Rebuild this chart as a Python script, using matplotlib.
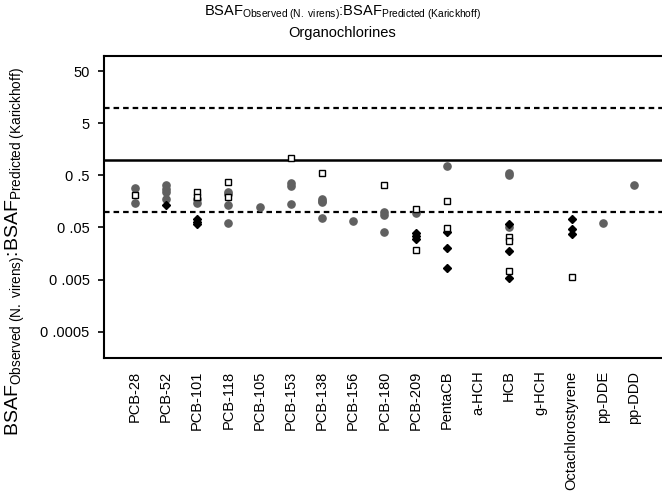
import matplotlib
matplotlib.use('Agg')
import matplotlib.pyplot as plt

plt.rcParams['font.family'] = ['Liberation Sans', 'DejaVu Sans']
plt.rcParams['mathtext.fontset'] = 'custom'
plt.rcParams['mathtext.rm'] = 'Liberation Sans'
plt.rcParams['mathtext.it'] = 'Liberation Sans'

compounds = ['PCB-28', 'PCB-52', 'PCB-101', 'PCB-118', 'PCB-105', 'PCB-153',
             'PCB-138', 'PCB-156', 'PCB-180', 'PCB-209', 'PentaCB', 'a-HCH',
             'HCB', 'g-HCH', 'Octachlorostyrene', 'pp-DDE', 'pp-DDD']

# grey circles
circle_vals = [
    [0.291, 0.146],
    [0.321, 0.275, 0.241, 0.174],
    [0.177, 0.145],
    [0.244, 0.216, 0.134, 0.0618],
    [0.126],
    [0.351, 0.307, 0.142],
    [0.173, 0.164, 0.155, 0.075],
    [0.0667],
    [0.0993, 0.087, 0.0415],
    [0.096],
    [0.77],
    [],
    [0.566, 0.512, 0.0505],
    [],
    [],
    [0.061],
    [0.328],
]

# black diamonds
diamond_vals = [
    [], [0.134], [0.0728, 0.0647, 0.0571], [], [], [], [], [], [],
    [0.0397, 0.0343, 0.030],
    [0.0415, 0.0205, 0.0082],
    [],
    [0.0576, 0.0179, 0.00534],
    [],
    [0.0738, 0.0474, 0.037],
    [], [],
]

# open squares
square_vals = [
    [0.211], [], [0.238, 0.189], [0.375, 0.195], [], [1.07], [0.55], [],
    [0.328],
    [0.112, 0.01846],
    [0.162, 0.0496],
    [],
    [0.0333, 0.0275, 0.00728],
    [],
    [0.0055],
    [], [],
]

yticks = [50, 5, 0.5, 0.05, 0.005, 0.0005]
ytick_labels = ['50', '5', '0 .5', '0 .05', '0 .005', '0 .0005']

fig = plt.figure(figsize=(6.62, 4.96), dpi=100)
ax = fig.add_axes([0.1565, 0.2782, 0.8435, 0.6095])
ax.set_yscale('log')

ax.axhline(1, color='black', lw=1.8, zorder=1)
ax.axhline(10, color='black', lw=1.6, ls=(0, (2.5, 1.8)), zorder=1)
ax.axhline(0.1, color='black', lw=1.6, ls=(0, (2.5, 1.8)), zorder=1)

def flatten(vals):
    xs, ys = [], []
    for i, v in enumerate(vals):
        xs += [i + 1] * len(v)
        ys += v
    return xs, ys

x, y = flatten(circle_vals)
ax.plot(x, y, 'o', color='#606060', ms=5.2, mec='#606060', zorder=3)
x, y = flatten(diamond_vals)
ax.plot(x, y, 'D', color='black', ms=3.8, zorder=4)
x, y = flatten(square_vals)
ax.plot(x, y, 's', mfc='white', mec='black', mew=1.0, ms=4.5, zorder=5)

ax.set_xlim(0, 17.9)
ax.set_ylim(1.55e-4, 100)
ax.set_yticks(yticks)
ax.set_yticklabels(ytick_labels, fontsize=10.5)
ax.minorticks_off()
ax.set_xticks(range(1, len(compounds) + 1))
ax.set_xticklabels(compounds, rotation=90, fontsize=10.5)
ax.tick_params(axis='x', length=0, pad=9)
ax.tick_params(axis='y', length=4, width=1.2, pad=6)
ax.spines['right'].set_visible(False)
for s in ['left', 'bottom', 'top']:
    ax.spines[s].set_linewidth(1.5)

fig.text(0.517, 0.975,
         r'BSAF$_{\mathrm{Observed\ (N.\ virens)}}$:BSAF$_{\mathrm{Predicted\ (Karickhoff)}}$',
         ha='center', va='center', fontsize=10.5)
fig.text(0.517, 0.933, 'Organochlorines', ha='center', va='center', fontsize=10.5)
fig.text(0.024, 0.492,
         r'BSAF$_{\mathrm{Observed\ (N.\ virens)}}$:BSAF$_{\mathrm{Predicted\ (Karickhoff)}}$',
         ha='center', va='center', rotation=90, fontsize=14)

fig.savefig('out.png', dpi=100)
